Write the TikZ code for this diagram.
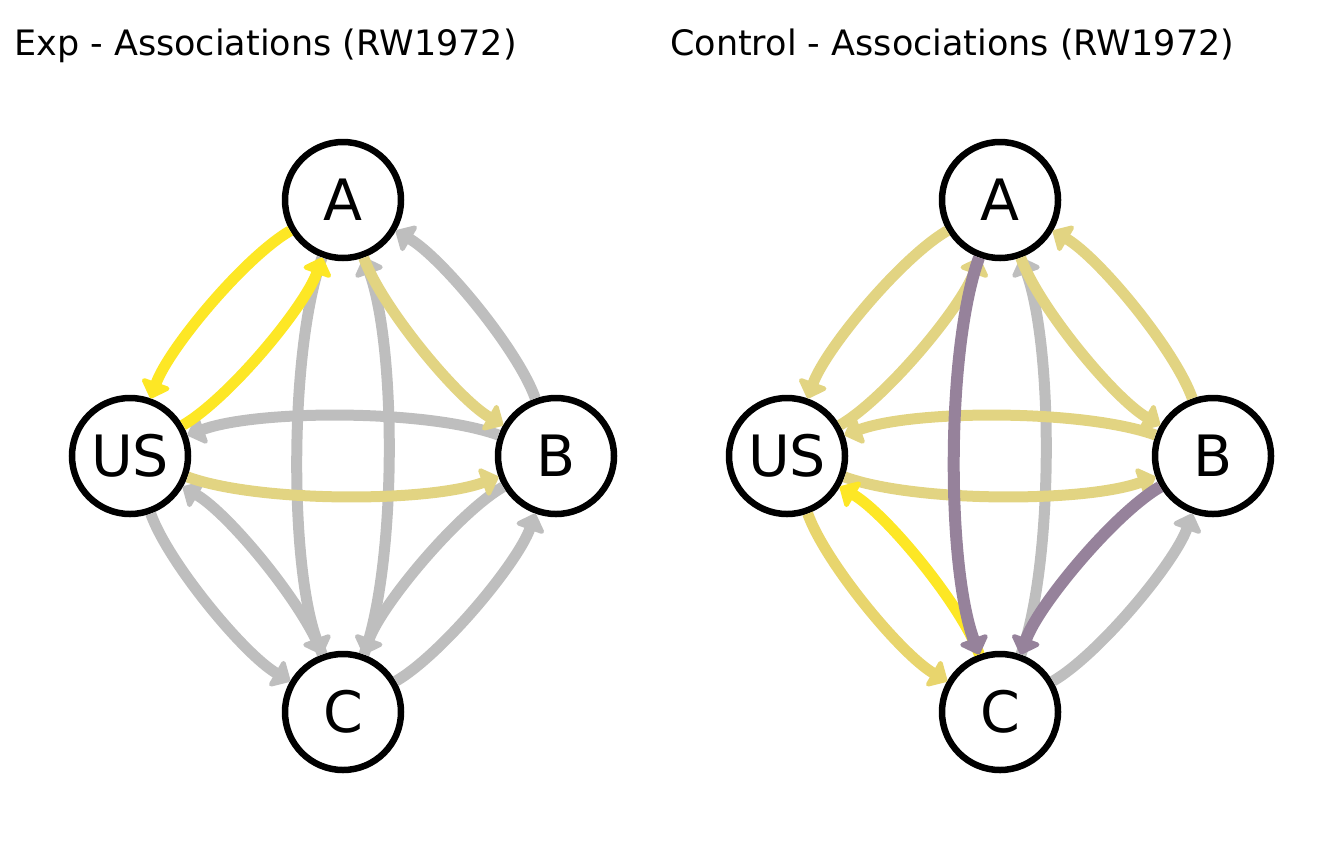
\documentclass[tikz,border=0pt]{standalone}
\usepackage{fontspec}
\setmainfont{DejaVu Sans}
\usetikzlibrary{arrows.meta}
\definecolor{assocYellow}{HTML}{FDE725}
\definecolor{assocKhaki}{HTML}{E2D482}
\definecolor{assocKhakiB}{HTML}{E8D56D}
\definecolor{assocGrey}{HTML}{BEBEBE}
\definecolor{assocPurple}{HTML}{96829B}
\begin{document}
\begin{tikzpicture}[x=1pt, y=-1pt,
	stim/.style = {shape=circle, draw, line width=6.5pt, fill=white, minimum size=116pt, inner sep=0pt, font=\fontsize{57}{57}\selectfont},
	title/.style = {anchor=base west, inner sep=0pt, font=\fontsize{35}{42}\selectfont},
	assoc/.style = {line width=11pt, -{Triangle[width=34pt,length=18pt,round]}, bend right=20, looseness=0.62}]
	\useasboundingbox (0,0) rectangle (1344,865);
	% Exp
	\node [title] (expTitle) at (14,55) {Exp - Associations (RW1972)};
	\node [stim] (eA) at (343,200) {A};
	\node [stim] (eUS) at (130,456) {US};
	\node [stim] (eB) at (556,456) {B};
	\node [stim] (eC) at (343,712) {C};
	\draw [assoc, assocGrey] (eA) to (eC);
	\draw [assoc, assocGrey] (eC) to (eA);
	\draw [assoc, assocGrey] (eUS) to (eC);
	\draw [assoc, assocGrey] (eC) to (eUS);
	\draw [assoc, assocGrey] (eB) to (eC);
	\draw [assoc, assocGrey] (eC) to (eB);
	\draw [assoc, assocGrey] (eB) to (eA);
	\draw [assoc, assocGrey] (eB) to (eUS);
	\draw [assoc, assocKhaki] (eA) to (eB);
	\draw [assoc, assocKhaki] (eUS) to (eB);
	\draw [assoc, assocYellow] (eA) to (eUS);
	\draw [assoc, assocYellow] (eUS) to (eA);
	% Control
	\node [title] (ctlTitle) at (670,55) {Control - Associations (RW1972)};
	\node [stim] (cA) at (1000,200) {A};
	\node [stim] (cUS) at (787,456) {US};
	\node [stim] (cB) at (1213,456) {B};
	\node [stim] (cC) at (1000,712) {C};
	\draw [assoc, assocGrey] (cC) to (cA);
	\draw [assoc, assocGrey] (cC) to (cB);
	\draw [assoc, assocKhaki] (cA) to (cUS);
	\draw [assoc, assocKhaki] (cUS) to (cA);
	\draw [assoc, assocKhaki] (cA) to (cB);
	\draw [assoc, assocKhaki] (cB) to (cA);
	\draw [assoc, assocKhaki] (cUS) to (cB);
	\draw [assoc, assocKhaki] (cB) to (cUS);
	\draw [assoc, assocKhakiB] (cUS) to (cC);
	\draw [assoc, assocYellow] (cC) to (cUS);
	\draw [assoc, assocPurple, line width=12pt] (cA) to (cC);
	\draw [assoc, assocPurple, line width=12pt] (cB) to (cC);
\end{tikzpicture}
\end{document}
